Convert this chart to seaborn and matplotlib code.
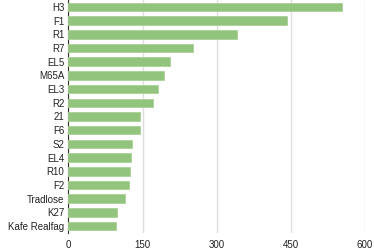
import matplotlib
matplotlib.use("Agg")
import matplotlib.pyplot as plt
import seaborn as sns
import pandas as pd

categories = ["H3", "F1", "R1", "R7", "EL5", "M65A", "EL3", "R2", "21", "F6",
              "S2", "EL4", "R10", "F2", "Tradlose", "K27", "Kafe Realfag"]
values = [554, 442, 341, 252, 206, 194, 182, 172, 145, 145,
          129, 126, 124, 122, 114, 98, 97]
xticks = [0, 150, 300, 450, 600]

df = pd.DataFrame({"cat": categories, "val": values})

sns.set_theme(style="white")
plt.rcParams["font.family"] = ["Liberation Sans", "DejaVu Sans"]

fig = plt.figure(figsize=(3.74, 2.5), dpi=100)
ax = fig.add_axes([0.183, 0.068, 0.793, 0.932])
sns.barplot(data=df, x="val", y="cat", color="#93c47d", saturation=1,
            width=0.62, edgecolor="#a9d196", linewidth=0.6, ax=ax, zorder=3)
ax.set_xlim(0, 600)
ax.set_ylim(len(categories) - 0.5, -0.5)
ax.set_xticks(xticks)
ax.set_xticklabels([str(t) for t in xticks])
ax.xaxis.grid(True, color="#dedede", linewidth=1, zorder=0)
ax.set_axisbelow(True)
ax.set_xlabel("")
ax.set_ylabel("")
for s in ["top", "right", "bottom"]:
    ax.spines[s].set_visible(False)
ax.spines["left"].set_color("#333333")
ax.spines["left"].set_linewidth(0.8)
ax.tick_params(axis="both", length=0, labelsize=7, colors="#222222", pad=3)
ax.tick_params(axis="x", pad=5)
fig.savefig("out.png", dpi=100)
